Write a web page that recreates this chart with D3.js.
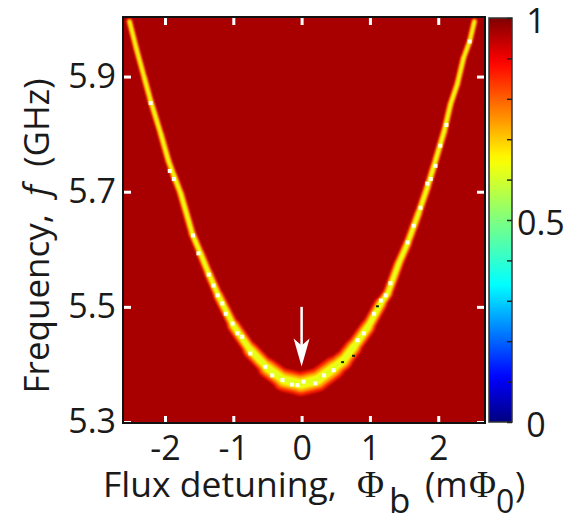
<!DOCTYPE html>
<html><head><meta charset="utf-8">
<script src="https://cdn.jsdelivr.net/npm/d3@7"></script>
<style>
html,body{margin:0;padding:0;background:#fff;overflow:hidden}
text{font-family:"Open Sans",sans-serif;fill:#1a1a1a;white-space:pre}
</style></head><body>
<svg id="c" width="565" height="517"></svg>
<script>
// Data
const ridgeFlux = [-2.52,-2.42,-2.30,-2.21,-2.06,-1.95,-1.87,-1.77,-1.60,-1.48,-1.36,-1.22,-1.00,-0.75,-0.50,-0.26,-0.01,0.23,0.47,0.61,0.76,0.97,1.16,1.26,1.42,1.55,1.71,1.84,1.93,2.09,2.18,2.28,2.37,2.46,2.53];
const ridgeFreq = [5.996,5.949,5.897,5.858,5.800,5.754,5.728,5.697,5.627,5.593,5.558,5.520,5.468,5.425,5.394,5.373,5.366,5.373,5.394,5.407,5.430,5.465,5.506,5.523,5.575,5.610,5.662,5.707,5.742,5.806,5.852,5.887,5.932,5.961,5.996];
// apparent ridge width, in mPhi0 across the line
const ridgeWidth = [0.08,0.08,0.085,0.085,0.09,0.09,0.095,0.10,0.105,0.115,0.125,0.145,0.18,0.22,0.27,0.31,0.32,0.31,0.27,0.24,0.21,0.18,0.145,0.135,0.125,0.115,0.105,0.10,0.095,0.09,0.085,0.085,0.08,0.08,0.08];
const bgValue = 0.965;
const layerValues = [0.86,0.74,0.64,0.615];      // colour-scale levels, outer to inner
const layerWidths = [1.0,0.72,0.44,0.2];        // fraction of ridge width
const hotFlux = [-2.21,-1.93,-1.87,-1.59,-1.51,-1.36,-1.29,-1.23,-1.16,-1.11,-1.01,-0.94,-0.87,-0.75,-0.53,-0.43,-0.28,-0.14,-0.06,0.03,0.2,0.33,0.47,0.82,0.91,1.06,1.16,1.23,1.30,1.55,1.64,1.74,1.84,1.89,1.96,2.03,2.12,2.46];
const hotFreq = [5.854,5.736,5.722,5.624,5.593,5.556,5.537,5.52,5.506,5.488,5.471,5.454,5.448,5.419,5.396,5.381,5.373,5.365,5.364,5.37,5.367,5.381,5.39,5.442,5.454,5.488,5.511,5.52,5.541,5.612,5.641,5.672,5.714,5.722,5.745,5.78,5.816,5.961];
const darkFlux = [0.6,0.76,1.11];
const darkFreq = [5.404,5.415,5.501];
const jetDomain = [0,0.11,0.34,0.5,0.65,0.89,1];
const jetColors = ["#000080","#0000ff","#00ffff","#7fff7f","#ffff00","#ff0000","#800000"];
const xTicks = [-2,-1,0,1,2];
const yTicks = [5.3,5.5,5.7,5.9];
const cTicks = [0,0.1,0.2,0.3,0.4,0.5,0.6,0.7,0.8,0.9,1];
const cLabels = [0,0.5,1];

const L=124,R=484,T=18,B=422;
const x=d3.scaleLinear().domain([-2.6,2.67]).range([L,R]);
const y=d3.scaleLinear().domain([5.3,6.0]).range([B,T+1]);
const w=d3.scaleLinear().domain([0,0.29]).range([0,21]);
const jet=d3.scaleLinear().domain(jetDomain).range(jetColors);
const svg=d3.select("#c");
const defs=svg.append("defs");
defs.append("clipPath").attr("id","plot").append("rect").attr("x",L).attr("y",T).attr("width",R-L).attr("height",B-T);
defs.append("filter").attr("id","soft").append("feGaussianBlur").attr("stdDeviation",1);
defs.append("filter").attr("id","softer").append("feGaussianBlur").attr("stdDeviation",0.6);
const g=defs.append("linearGradient").attr("id","jet").attr("x1",0).attr("x2",0).attr("y1",1).attr("y2",0);
d3.range(0,1.001,0.02).forEach(t=>g.append("stop").attr("offset",t).attr("stop-color",jet(t)));

// plot
svg.append("rect").attr("x",L).attr("y",T).attr("width",R-L).attr("height",B-T).attr("fill",jet(bgValue));
const plot=svg.append("g").attr("clip-path","url(#plot)");
const segs=d3.pairs(d3.range(ridgeFlux.length));
layerValues.forEach((v,k)=>{
  const lay=plot.append("g").attr("filter","url(#soft)");
  lay.selectAll("line").data(segs).join("line")
    .attr("x1",d=>x(ridgeFlux[d[0]])).attr("y1",d=>y(ridgeFreq[d[0]]))
    .attr("x2",d=>x(ridgeFlux[d[1]])).attr("y2",d=>y(ridgeFreq[d[1]]))
    .attr("stroke",jet(v)).attr("stroke-linecap","round")
    .attr("stroke-width",d=>w(ridgeWidth[d[0]])*layerWidths[k]);
});
plot.append("g").attr("filter","url(#softer)").selectAll("rect").data(hotFlux).join("rect")
  .attr("x",(d)=>x(d)-2).attr("y",(d,i)=>y(hotFreq[i])-2).attr("width",4).attr("height",4).attr("fill","#fffff0");
plot.append("g").selectAll("rect").data(darkFlux).join("rect")
  .attr("x",(d)=>x(d)-1.5).attr("y",(d,i)=>y(darkFreq[i])-1).attr("width",3).attr("height",2).attr("fill","#152015");

// arrow
const ax=x(0);
svg.append("line").attr("x1",ax).attr("x2",ax).attr("y1",y(5.5)).attr("y2",y(5.43)).attr("stroke","#fff").attr("stroke-width",2.5);
svg.append("path").attr("fill","#fff")
  .attr("d",d3.line()([[ax,y(5.4)+2],[ax-8,y(5.4)-26],[ax,y(5.4)-19],[ax+8,y(5.4)-26]])+"Z");

// axes
const FS=34;
function style(a,col,wid){a.select(".domain").remove();a.selectAll(".tick line").attr("stroke",col).attr("stroke-width",wid);a.selectAll("text").attr("font-size",FS).attr("fill","#1a1a1a");}
const xa=svg.append("g").attr("transform",`translate(0,${B})`).call(d3.axisBottom(x).tickValues(xTicks).tickFormat(String).tickSize(-6));
style(xa,"#fff",3); xa.selectAll("text").attr("y",38).attr("dy",0);
const xt=svg.append("g").attr("transform",`translate(0,${T})`).call(d3.axisTop(x).tickValues(xTicks).tickFormat("").tickSize(-7));
style(xt,"#fff",3);
const ya=svg.append("g").attr("transform",`translate(${L},0)`).call(d3.axisLeft(y).tickValues(yTicks).tickFormat(d3.format(".1f")).tickSize(-7).tickPadding(8));
style(ya,"#fff",3);
const yr=svg.append("g").attr("transform",`translate(${R},0)`).call(d3.axisRight(y).tickValues(yTicks).tickFormat("").tickSize(-7));
style(yr,"#fff",3);
svg.append("rect").attr("x",L-1).attr("y",T-1).attr("width",R-L+2).attr("height",B-T+2).attr("fill","none").attr("stroke","#111").attr("stroke-width",2);

// colour bar
const CL=489,CR=512;
const c=d3.scaleLinear().domain([0,1]).range([B,T]);
svg.append("rect").attr("x",CL).attr("y",T).attr("width",CR-CL).attr("height",B-T).attr("fill","url(#jet)").attr("stroke","#333").attr("stroke-width",1.5);
const ca=svg.append("g").attr("transform",`translate(${CR},0)`).call(d3.axisRight(c).tickValues(cTicks).tickFormat("").tickSize(-5));
ca.select(".domain").remove(); ca.selectAll(".tick line").attr("stroke","#222").attr("stroke-width",1.5);
svg.append("g").selectAll("text").data(cLabels).join("text")
  .attr("x",d=>d===0.5?517:536).attr("text-anchor",d=>d===0.5?"start":"middle")
  .attr("y",d=>d===1?33:d===0?437:235).attr("font-size",FS).text(String);

// titles
const TS=35, PX=103, BASE=497;
const tp=(s,px,opts={})=>{const t=svg.append("text").attr("x",px).attr("y",opts.y||BASE).attr("font-size",opts.fs||TS).text(s);if(opts.serif)t.style("font-family","'Liberation Serif'");return t;};
tp("Flux detuning,",PX,{fs:35.5});
tp("Φ",357,{serif:true,fs:37});
tp("b",389,{y:513});
tp("(m",425);
tp("Φ",469,{serif:true,fs:37});
tp("0",496,{y:513,fs:32});
tp(")",515);
const ytitle=svg.append("text").attr("transform","translate(49,236) rotate(-90)").attr("text-anchor","middle").attr("font-size",TS);
ytitle.append("tspan").text("Frequency,  ");
ytitle.append("tspan").attr("font-style","italic").text("f");
ytitle.append("tspan").text("  (GHz)");
</script></body></html>
